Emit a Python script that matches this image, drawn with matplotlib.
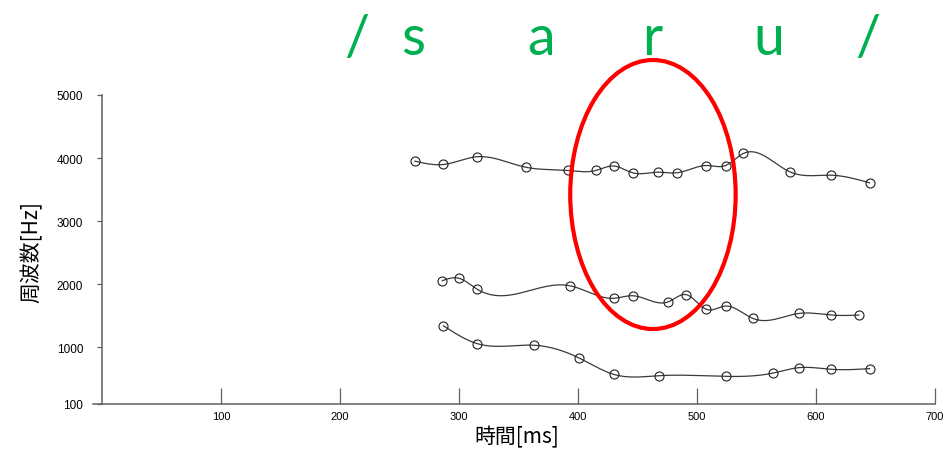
import numpy as np
import matplotlib.pyplot as plt
from matplotlib.patches import Ellipse

plt.rcParams['font.family'] = ['Noto Sans CJK JP', 'DejaVu Sans']

# formant tracks: time [ms] / frequency [Hz]
f1_ms = [287, 315, 363, 401, 430, 468, 524, 564, 586, 613, 645]
f1_hz = [1339, 1059, 1032, 829, 570, 549, 538, 591, 677, 650, 661]

f2_ms = [286, 300, 315, 393, 430, 446, 476, 491, 508, 524, 547, 586, 613, 636]
f2_hz = [2056, 2094, 1924, 1976, 1776, 1817, 1721, 1834, 1600, 1653, 1457,
         1537, 1510, 1510]

f3_ms = [263, 287, 315, 356, 392, 415, 430, 446, 467, 483, 508, 524, 539,
         578, 613, 645]
f3_hz = [3951, 3898, 4021, 3855, 3803, 3803, 3874, 3766, 3776, 3766, 3882,
         3882, 4073, 3782, 3728, 3607]

x_ticks = [100, 200, 300, 400, 500, 600, 700]
y_ticks = [100, 1000, 2000, 3000, 4000, 5000]

# phoneme labels above the plot
phonemes = ['/', 's', 'a', 'r', 'u', '/']
phoneme_px = [357, 413, 541, 652, 769, 868]


def natural_spline(x, y, n=25):
    """Smooth curve through the points (natural cubic spline)."""
    x = np.asarray(x, float)
    y = np.asarray(y, float)
    k = len(x)
    h = np.diff(x)
    A = np.zeros((k, k))
    r = np.zeros(k)
    A[0, 0] = A[-1, -1] = 1
    for i in range(1, k - 1):
        A[i, i - 1] = h[i - 1]
        A[i, i] = 2 * (h[i - 1] + h[i])
        A[i, i + 1] = h[i]
        r[i] = 3 * ((y[i + 1] - y[i]) / h[i] - (y[i] - y[i - 1]) / h[i - 1])
    c = np.linalg.solve(A, r)
    xs, ys = [], []
    for i in range(k - 1):
        b = (y[i + 1] - y[i]) / h[i] - h[i] * (2 * c[i] + c[i + 1]) / 3
        d = (c[i + 1] - c[i]) / (3 * h[i])
        t = np.linspace(0, h[i], n, endpoint=False)
        xs.append(x[i] + t)
        ys.append(y[i] + b * t + c[i] * t ** 2 + d * t ** 3)
    xs.append([x[-1]])
    ys.append([y[-1]])
    return np.concatenate(xs), np.concatenate(ys)


fig = plt.figure(figsize=(9.45, 4.52), dpi=100)
ax = fig.add_axes([93 / 945, 47 / 452, 842 / 945, 309 / 452])

for xs, ys in [(f1_ms, f1_hz), (f2_ms, f2_hz), (f3_ms, f3_hz)]:
    sx, sy = natural_spline(xs, ys)
    ax.plot(sx, sy, color='#3a3a3a', lw=0.9)
    ax.plot(xs, ys, 'o', ms=6.5, mfc='none', mec='#202020', mew=0.8)

ax.set_xlim(-7.5, 700)
ax.set_ylim(100, 5000)

ax.spines['top'].set_visible(False)
ax.spines['right'].set_visible(False)
ax.spines['left'].set_position(('data', 0))
for s in ['left', 'bottom']:
    ax.spines[s].set_color('#606060')
    ax.spines[s].set_linewidth(1.1)

ax.set_xticks(x_ticks)
ax.set_yticks(y_ticks)
ax.tick_params(axis='x', direction='in', length=11.5, width=0.9,
               color='#606060', labelsize=8, pad=5)
ax.tick_params(axis='y', direction='out', length=3.5, width=0.9,
               color='#606060', labelsize=8.5, pad=10)
for lab in ax.get_xticklabels() + ax.get_yticklabels():
    lab.set_family(['Liberation Sans', 'DejaVu Sans'])

ax.set_xlabel('時間[ms]', fontsize=15)
ax.xaxis.set_label_coords((517 - 93) / 842, (405 - 437) / 309)
ax.xaxis.label.set_va('center')
ax.set_ylabel('周波数[Hz]', fontsize=15)
ax.yaxis.set_label_coords((32 - 93) / 842, (405 - 252) / 309)
ax.yaxis.label.set_va('center')

# highlight the /r/ region
ax.add_patch(Ellipse((463, 3422), 139, 4266, fill=False, ec='#ff0000',
                     lw=3, clip_on=False, zorder=5))

for ch, px in zip(phonemes, phoneme_px):
    fig.text(px / 945, 1 - 55 / 452, ch, color='#00b050', fontsize=40,
             family=['Lato', 'DejaVu Sans'], ha='center', va='baseline')

fig.savefig('out.png', dpi=100)
